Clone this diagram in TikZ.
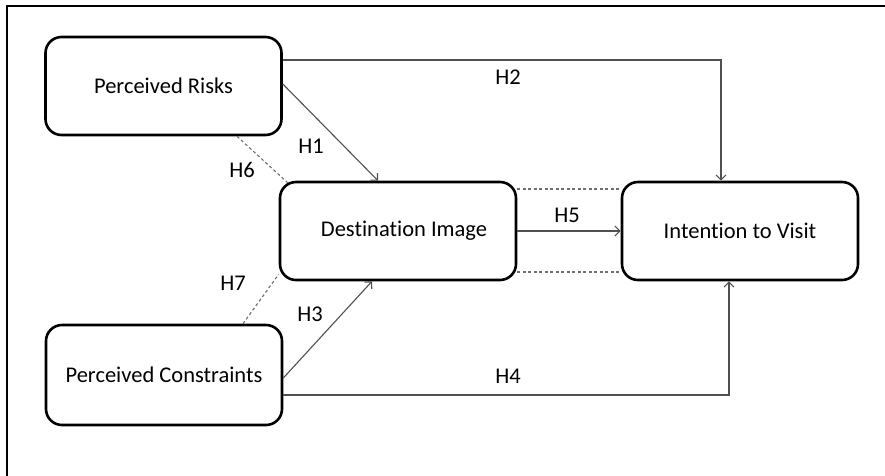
\documentclass[tikz,border=0pt]{standalone}
\usepackage{fontspec}
\setmainfont{Carlito}[Ligatures=NoCommon]
\usetikzlibrary{arrows.meta}
\definecolor{conn}{RGB}{80,80,80}
\definecolor{dashc}{RGB}{110,110,110}
\tikzset{
  box/.style={draw=black, line width=2.6pt, rounded corners=16pt, minimum width=236pt, minimum height=98pt, inner sep=0pt, font=\fontsize{22.5}{27}\selectfont, align=center},
  link/.style={draw=conn, line width=1.1pt, -{Straight Barb[length=5pt,width=10pt,line width=1.1pt]}},
  corr/.style={draw=dashc, line width=1.1pt, dash pattern=on 3pt off 2.5pt},
  lab/.style={font=\fontsize{22.5}{27}\selectfont, inner sep=0pt},
  frame/.style={draw=black, line width=2.8pt}
}
\begin{document}
\begin{tikzpicture}[x=1pt,y=-1pt]
\useasboundingbox (0,0) rectangle (885,475);
\fill[white] (0,0) rectangle (885,475);
\coordinate (ftl) at (7,6);
\coordinate (ftr) at (886,6);
\coordinate (fbl) at (7,476);
\draw[frame] (ftr) -- (ftl) -- (fbl);

\node[box] (pr) at (163.5,86) {Perceived Risks};
\node[box] (di) at (398,231) {\hspace*{12pt}Destination Image};
\node[box] (iv) at (740,231) {Intention to Visit};
\node[box, minimum height=100pt] (pc) at (164,375) {Perceived Constraints};

% H2
\draw[link] ([yshift=26pt]pr.east) -| ([xshift=-19pt]iv.north);
\node[lab] (h2) at (508,77) {H2};
% H1
\draw[link] ([yshift=2pt]pr.east) -- ([xshift=-20pt]di.north);
\node[lab] (h1) at (311,146) {H1};
% H6
\draw[corr] ([xshift=73.5pt]pr.south) -- ([xshift=9pt,yshift=-2pt]di.north west);
\node[lab] (h6) at (242,170) {H6};
% H5
\draw[link] (di.east) -- (iv.west);
\node[lab] (h5) at (567,215) {H5};
\draw[corr] ([yshift=42pt]di.east) -- ([yshift=42pt]iv.west);
\draw[corr] ([yshift=-41pt]di.east) -- ([yshift=-41pt]iv.west);
% H7
\draw[corr] ([xshift=79pt]pc.north) -- ([yshift=7pt]di.south west);
\node[lab] (h7) at (233,283) {H7};
% H3
\draw[link] ([yshift=-3pt]pc.east) -- ([xshift=-26pt]di.south);
\node[lab] (h3) at (310,314) {H3};
% H4
\draw[link] ([yshift=-20pt]pc.east) -| ([xshift=-11pt]iv.south);
\node[lab] (h4) at (508,376) {H4};
\end{tikzpicture}
\end{document}
